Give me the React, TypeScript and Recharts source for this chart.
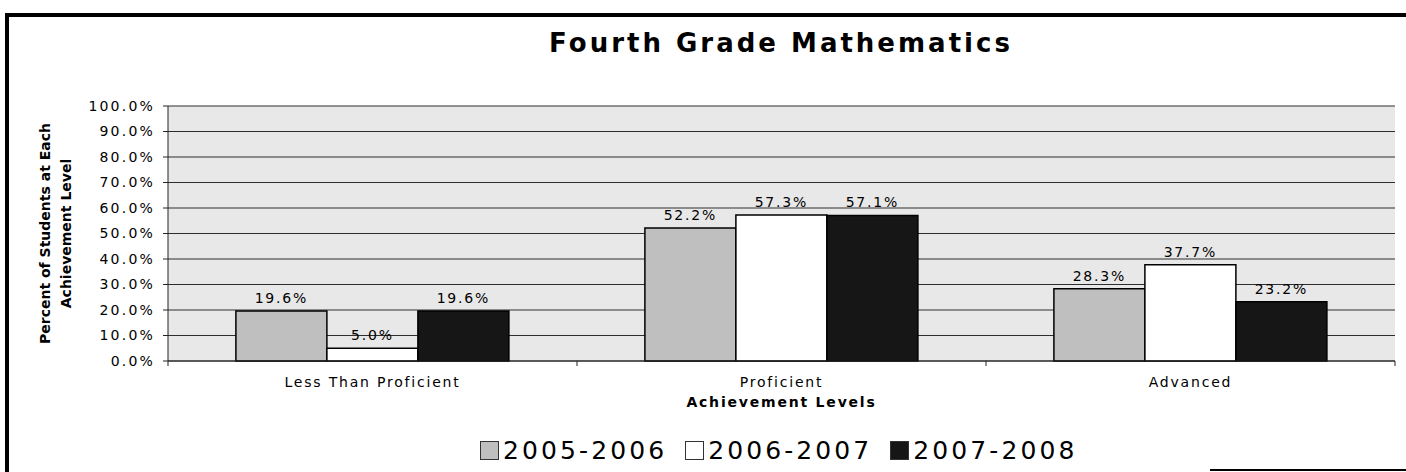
import React from 'react'
import {
  BarChart,
  Bar,
  XAxis,
  YAxis,
  CartesianGrid,
  LabelList,
} from 'recharts'

const CATEGORIES = ['Less Than Proficient', 'Proficient', 'Advanced']
const SERIES = ['2005-2006', '2006-2007', '2007-2008']
const Y2006 = [19.6, 52.2, 28.3]
const Y2007 = [5.0, 57.3, 37.7]
const Y2008 = [19.6, 57.1, 23.2]
const Y_TICKS = [0, 10, 20, 30, 40, 50, 60, 70, 80, 90, 100]

const FILLS = ['#bfbfbf', '#ffffff', '#161616']
const FONT = '"DejaVu Sans", Verdana, sans-serif'

const data = CATEGORIES.map((name, i) => ({
  name,
  [SERIES[0]]: Y2006[i],
  [SERIES[1]]: Y2007[i],
  [SERIES[2]]: Y2008[i],
}))

const pct = (v: any) => `${Number(v).toFixed(1)}%`

// category label plus small tick marks on the category boundaries
function CategoryTick(props: any) {
  const { x, y, payload, index, width } = props
  const band = width / CATEGORIES.length
  const left = x - band / 2
  const right = x + band / 2
  return (
    <g>
      <line x1={left} y1={y} x2={left} y2={y + 5} stroke="#222" />
      {index === CATEGORIES.length - 1 && (
        <line x1={right} y1={y} x2={right} y2={y + 5} stroke="#222" />
      )}
      <text
        x={x}
        y={y + 16}
        dy="0.71em"
        textAnchor="middle"
        fontSize={14}
        letterSpacing={1.8}
        fill="#000"
        fontFamily={FONT}
      >
        {payload.value}
      </text>
    </g>
  )
}

function YTitle(props: any) {
  const { viewBox } = props
  const bx = viewBox.x + 50
  const cy = viewBox.y + viewBox.height / 2
  return (
    <g transform={`translate(${bx}, ${cy}) rotate(-90)`}>
      <text textAnchor="middle" fontSize={14} fontWeight="bold" fill="#000" fontFamily={FONT}>
        <tspan x={0} y={0}>Percent of Students at Each</tspan>
        <tspan x={0} y={21}>Achievement Level</tspan>
      </text>
    </g>
  )
}

function XTitle(props: any) {
  const { viewBox } = props
  return (
    <text
      x={viewBox.x + viewBox.width / 2}
      y={viewBox.y + 46}
      textAnchor="middle"
      fontSize={14}
      fontWeight="bold"
      letterSpacing={1.8}
      fill="#000"
      fontFamily={FONT}
    >
      Achievement Levels
    </text>
  )
}

function LegendRow() {
  return (
    <div
      style={{
        position: 'absolute',
        left: 480,
        top: 436,
        display: 'flex',
        alignItems: 'center',
        fontFamily: FONT,
        fontSize: 25,
        letterSpacing: 3.1,
        color: '#000',
        whiteSpace: 'nowrap',
      }}
    >
      {SERIES.map((s, i) => (
        <div key={s} style={{ display: 'flex', alignItems: 'center', marginRight: 18 }}>
          <span
            style={{
              display: 'inline-block',
              width: 19,
              height: 19,
              background: FILLS[i],
              border: '1px solid #333',
              marginRight: 4,
              boxSizing: 'border-box',
            }}
          />
          <span>{s}</span>
        </div>
      ))}
    </div>
  )
}

export default function App() {
  return (
    <div
      style={{
        position: 'fixed',
        left: 0,
        top: 0,
        width: 1406,
        height: 472,
        background: '#fff',
        overflow: 'hidden',
      }}
    >
      {/* frame: heavy top and left edges, short bottom edge at the right */}
      <div
        style={{
          position: 'absolute',
          left: 5,
          top: 13,
          width: 1420,
          height: 470,
          borderTop: '4px solid #000',
          borderLeft: '4px solid #000',
        }}
      />
      <div
        style={{
          position: 'absolute',
          left: 1210,
          top: 469,
          width: 200,
          height: 2,
          background: '#000',
        }}
      />
      <div
        style={{
          position: 'absolute',
          left: 0,
          top: 28,
          width: 1562,
          textAlign: 'center',
          fontFamily: FONT,
          fontWeight: 'bold',
          fontSize: 26,
          letterSpacing: 3,
          color: '#000',
        }}
      >
        Fourth Grade Mathematics
      </div>
      <div style={{ position: 'absolute', left: 0, top: 0 }}>
        <BarChart
          width={1406}
          height={472}
          data={data}
          margin={{ top: 106, right: 11, left: 0, bottom: 0 }}
          barCategoryGap="16.6%"
          barGap={0}
        >
          <CartesianGrid
            vertical={false}
            stroke="#2e2e2e"
            fill="#e8e8e8"
            fillOpacity={1}
          />
          <XAxis
            dataKey="name"
            height={111}
            tickLine={false}
            tickSize={0}
            tickMargin={0}
            axisLine={{ stroke: '#222' }}
            tick={<CategoryTick />}
            interval={0}
            label={<XTitle />}
          />
          <YAxis
            width={168}
            domain={[0, 100]}
            ticks={Y_TICKS}
            tickFormatter={pct}
            tickSize={5}
            tickMargin={8}
            axisLine={{ stroke: '#222' }}
            tickLine={{ stroke: '#222' }}
            tick={{ fontSize: 14, fill: '#000', fontFamily: FONT, letterSpacing: 2.2 } as any}
            label={<YTitle />}
          />
          {SERIES.map((s, i) => (
            <Bar
              key={s}
              dataKey={s}
              fill={FILLS[i]}
              stroke="#000"
              strokeWidth={1.5}
              isAnimationActive={false}
            >
              <LabelList
                dataKey={s}
                position="top"
                offset={8}
                formatter={pct}
                style={{ fontSize: 14, fill: '#000', fontFamily: FONT, letterSpacing: 1.8 }}
              />
            </Bar>
          ))}
        </BarChart>
      </div>
      <LegendRow />
    </div>
  )
}
